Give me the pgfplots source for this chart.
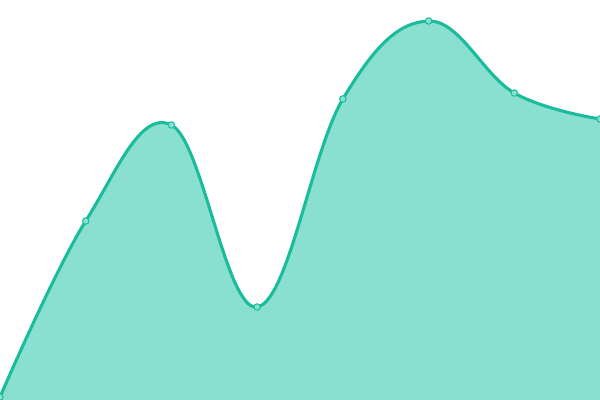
\documentclass[border=0pt]{standalone}
\usepackage{pgfplots}
\pgfplotsset{compat=1.18}
\definecolor{lineC}{RGB}{26,188,156}
\definecolor{fillC}{RGB}{137,224,208}
\begin{document}
\begin{tikzpicture}
\begin{axis}[
    scale only axis,
    width=15cm, height=10cm,
    xmin=0, xmax=7, ymin=0, ymax=400,
    hide axis,
    clip marker paths=true,
]
\addplot[fill=fillC, draw=none, smooth, tension=0.65] coordinates {
    (0,3) (1,179) (2,275) (3,93) (4,301) (5,379) (6,307) (7,281)
} \closedcycle;
\addplot[lineC, line width=2.2pt, smooth, tension=0.65, mark=*,
    mark size=2.3pt, mark options={fill=fillC, draw=lineC, line width=0.7pt}]
    coordinates {
    (0,3) (1,179) (2,275) (3,93) (4,301) (5,379) (6,307) (7,281)
};
\end{axis}
\pgfresetboundingbox
\path (current axis.south west) rectangle (current axis.north east);
\end{tikzpicture}
\end{document}
